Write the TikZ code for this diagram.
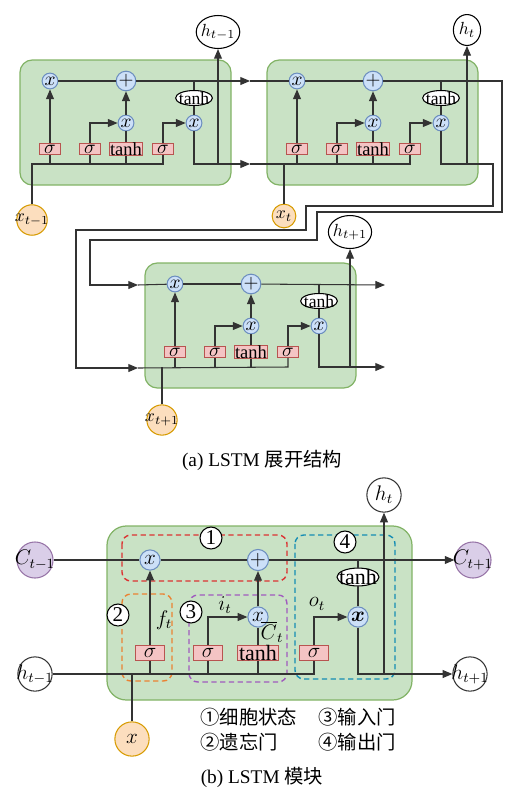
\documentclass[tikz,border=0pt]{standalone}
\usepackage{amsmath,amssymb}
\usepackage{fontspec}
\setmainfont{Liberation Serif}
\newfontfamily\cjk{Noto Sans CJK SC}
\usetikzlibrary{arrows.meta, shapes.geometric, calc}

\definecolor{cellfill}{RGB}{201,226,197}
\definecolor{celldraw}{RGB}{130,179,102}
\definecolor{opfill}{RGB}{204,224,248}
\definecolor{opdraw}{RGB}{108,142,191}
\definecolor{gatefill}{RGB}{244,196,196}
\definecolor{gatedraw}{RGB}{184,84,80}
\definecolor{xinfill}{RGB}{252,222,190}
\definecolor{xindraw}{RGB}{215,155,0}
\definecolor{cfill}{RGB}{218,206,232}
\definecolor{cdraw}{RGB}{150,115,166}
\definecolor{grpred}{RGB}{220,50,50}
\definecolor{grporange}{RGB}{235,130,50}
\definecolor{grppurple}{RGB}{160,90,190}
\definecolor{grpblue}{RGB}{20,140,180}

\tikzset{
  wire/.style={draw=black!80, line width=0.6pt},
  arr/.style={wire, -{Triangle[length=5.5pt,width=4.5pt]}},
  cellbox/.style={draw=celldraw, fill=cellfill, line width=0.7pt},
  op/.style={circle, draw=opdraw, fill=opfill, line width=0.6pt, inner sep=0pt, minimum size=9pt, font=\fontsize{11}{11}\selectfont},
  bop/.style={op, minimum size=11.5pt, font=\fontsize{12}{12}\selectfont},
  gate/.style={rectangle, draw=gatedraw, fill=gatefill, line width=0.5pt, inner sep=0pt, minimum width=12pt, minimum height=6.2pt, font=\fontsize{10.5}{11}\selectfont},
  bgate/.style={gate, minimum width=17pt, minimum height=8.5pt, font=\fontsize{12.5}{13}\selectfont},
  thnode/.style={ellipse, draw=black, fill=white, line width=0.6pt, inner xsep=-1.2pt, inner ysep=-0.5pt},
  hnode/.style={ellipse, draw=black, fill=white, line width=0.6pt, inner xsep=-1pt, inner ysep=2pt, minimum width=15.5pt, minimum height=15pt},
  xnode/.style={circle, draw=xindraw, fill=xinfill, line width=0.6pt, inner sep=-1.3pt, minimum size=13.5pt},
  bignode/.style={circle, draw=black!80, fill=white, line width=0.6pt, inner sep=-1.8pt, minimum size=19.5pt, font=\fontsize{12}{12}\selectfont},
  numnode/.style={circle, draw=black, fill=white, line width=0.6pt, inner sep=0pt, minimum size=12.5pt, font=\fontsize{12}{12}\selectfont},
  region/.style={dash pattern=on 3pt off 2pt, rounded corners=5pt, line width=0.8pt},
  lbl/.style={inner sep=0pt, font=\fontsize{12}{12}\selectfont},
  txt/.style={inner sep=0pt, font=\fontsize{11}{13}\selectfont}
}

\begin{document}
\begin{tikzpicture}[x=0.02cm, y=-0.02cm, font=\fontsize{10}{12}\selectfont]
\useasboundingbox (0,0) rectangle (510,795);

% (a) three unrolled cells
\foreach \c/\ox/\oy in {1/20/60, 2/267/60, 3/145/263}{
  \begin{scope}[shift={(\ox,\oy)}]
    \draw[cellbox, rounded corners=7pt] (0,0) rectangle (211,125);
    \node[op] (fx\c) at (30,21) {$x$};
    \node[op] (ad\c) at (106,21) {$+$};
    \node[thnode] (th\c) at (174,38) {tanh};
    \node[op] (ix\c) at (106,63) {$x$};
    \node[op] (ox\c) at (174,63) {$x$};
    \node[gate] (sf\c) at (30,89) {$\sigma$};
    \node[gate] (si\c) at (70,89) {$\sigma$};
    \node[gate, minimum width=18.7pt] (tc\c) at (106,89) {tanh};
    \node[gate] (so\c) at (143,89) {$\sigma$};
    \coordinate (tp\c) at (174,21);
    \coordinate (bt\c) at (0,104);
    \draw[wire] (fx\c) -- (ad\c);
    \draw[wire] (tp\c) -- (th\c) -- (ox\c);
    \draw[arr] (sf\c) -- (fx\c);
    \draw[arr] (si\c) |- (ix\c);
    \draw[wire] (tc\c) -- (ix\c);
    \draw[arr] (ix\c) -- (ad\c);
    \draw[arr] (so\c) |- (ox\c);
    \draw[wire] (sf\c) -- (sf\c |- bt\c);
    \draw[wire] (si\c) -- (si\c |- bt\c);
    \draw[wire] (tc\c) -- (tc\c |- bt\c);
  \end{scope}
}

% cell t-1
\node[xnode] (x1) at (32,220) {$x_{t-1}$};
\node[hnode] (h1) at (218,32) {$h_{t-1}$};
\coordinate (ca) at (250,81);
\coordinate (ha) at (250,164);
\coordinate (hj1) at (218,164);
\draw[wire] (x1) |- (so1 |- bt1) -- (so1);
\draw[arr] (ad1) -- (ca);
\draw[wire] (ca) -- (fx2);
\draw[arr] (ox1) |- (ha);
\draw[arr] (hj1) -- (h1);

% cell t
\node[xnode] (x2) at (284,216) {$x_t$};
\node[hnode] (h2) at (467,30) {$h_t$};
\coordinate (cb) at (138,285);
\coordinate (hb) at (138,368);
\coordinate (hj2) at (467,164);
\draw[wire] (ha) -- (so2 |- bt2) -- (so2);
\draw[wire] (x2) -- (x2 |- bt2);
\draw[arr] (ad2) -- (502,81) -- (502,212) -- (317,212) -- (317,240) -- (90,240) |- (cb);
\draw[wire] (cb) -- (fx3);
\draw[arr] (ox2) |- (493,164) -- (493,206) -- (306,206) -- (306,230) -- (76,230) |- (hb);
\draw[wire] (hb) -- (so3 |- bt3) -- (so3);
\draw[arr] (hj2) -- (h2);

% cell t+1
\node[xnode] (x3) at (162,420) {$x_{t+1}$};
\node[hnode] (h3) at (350,232) {$h_{t+1}$};
\coordinate (cc) at (385,285);
\coordinate (hc) at (385,367);
\coordinate (hj3) at (350,367);
\draw[wire] (x3) -- (x3 |- bt3);
\draw[arr] (ad3) -- (cc);
\draw[arr] (ox3) |- (hc);
\draw[arr] (hj3) -- (h3);

\node[txt] (capa) at (262,460) {(a) LSTM {\cjk 展开结构}};

% (b) one block
\draw[cellbox, rounded corners=11pt] (107,526) rectangle (412,700);
\draw[region, draw=grpred] (122,535) rectangle (287,581);
\draw[region, draw=grpblue] (295,535) rectangle (395,679);
\draw[region, draw=grporange] (122,594) rectangle (172,681);
\draw[region, draw=grppurple] (189,595) rectangle (287,682);

\node[bignode, draw=cdraw, fill=cfill] (cin) at (35,560) {$C_{t-1}$};
\node[bignode, draw=cdraw, fill=cfill] (cout) at (473,560) {$C_{t+1}$};
\node[bignode] (hin) at (35,674) {$h_{t-1}$};
\node[bignode] (hout) at (470,674) {$h_{t+1}$};
\node[bignode] (ht) at (384,495) {$h_t$};
\node[bignode, draw=xindraw, fill=xinfill] (xb) at (132,739) {$x$};

\node[bop] (bfx) at (150,560) {$x$};
\node[bop] (bad) at (258,560) {$+$};
\node[thnode, inner xsep=-2.3pt, inner ysep=-0.8pt, font=\fontsize{12.5}{13}\selectfont] (bth) at (358,577) {tanh};
\node[bop] (bix) at (258,617) {$x$};
\node[bop] (box) at (358,617) {$\boldsymbol{x}$};
\node[bgate] (bsf) at (150,653) {$\sigma$};
\node[bgate] (bsi) at (208,653) {$\sigma$};
\node[bgate, minimum width=23.8pt] (btc) at (258,653) {tanh};
\node[bgate] (bso) at (314,653) {$\sigma$};
\coordinate (tpb) at (358,560);

\draw[wire] (cin) -- (bfx) -- (bad);
\draw[arr] (bad) -- (cout);
\draw[wire] (tpb) -- (bth) -- (box);
\draw[arr] (bsf) -- (bfx);
\draw[arr] (bsi) |- (bix);
\draw[wire] (btc) -- (bix);
\draw[arr] (bix) -- (bad);
\draw[arr] (bso) |- (box);
\draw[wire] (hin) -- (bso |- hin) -- (bso);
\draw[wire] (bsf) -- (bsf |- hin);
\draw[wire] (bsi) -- (bsi |- hin);
\draw[wire] (btc) -- (btc |- hin);
\draw[wire] (xb) -- (xb |- hin);
\draw[arr] (box) |- (hout);
\draw[arr] (ht |- hout) -- (ht);

\node[numnode] (n1) at (211,538) {1};
\node[numnode] (n2) at (118,615) {2};
\node[numnode] (n3) at (191,612) {3};
\node[numnode] (n4) at (345,542) {4};

\node[lbl] (ft) at (164,620) {$f_t$};
\node[lbl] (it) at (225,605) {$i_t$};
\node[lbl] (ot) at (317,604) {$o_t$};
\node[lbl] (cbar) at (272,632) {$\overline{C}_t$};

\node[txt, anchor=west] (lg1) at (200,717) {\cjk ①细胞状态};
\node[txt, anchor=west] (lg3) at (318,717) {\cjk ③输入门};
\node[txt, anchor=west] (lg2) at (200,742) {\cjk ②遗忘门};
\node[txt, anchor=west] (lg4) at (318,742) {\cjk ④输出门};
\node[txt] (capb) at (262,777) {(b) LSTM {\cjk 模块}};
\end{tikzpicture}
\end{document}
